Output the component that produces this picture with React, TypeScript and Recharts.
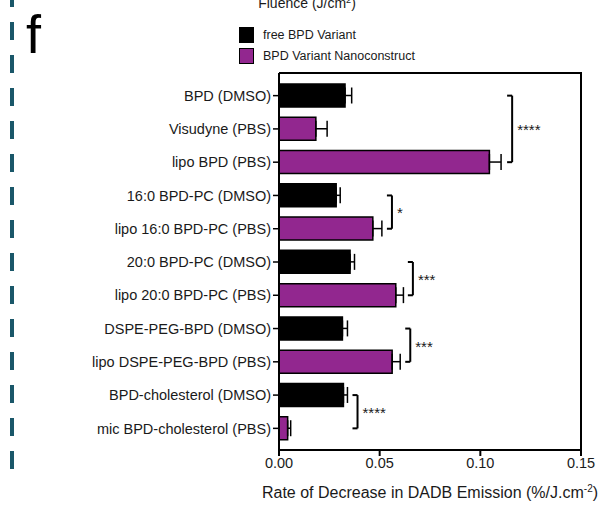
import React from "react";
import {
  BarChart,
  Bar,
  Cell,
  XAxis,
  YAxis,
  ErrorBar,
  ReferenceLine,
  Label,
} from "recharts";

const categories = [
  "BPD (DMSO)",
  "Visudyne (PBS)",
  "lipo BPD (PBS)",
  "16:0 BPD-PC (DMSO)",
  "lipo 16:0 BPD-PC (PBS)",
  "20:0 BPD-PC (DMSO)",
  "lipo 20:0 BPD-PC (PBS)",
  "DSPE-PEG-BPD (DMSO)",
  "lipo DSPE-PEG-BPD (PBS)",
  "BPD-cholesterol (DMSO)",
  "mic BPD-cholesterol (PBS)",
];
const rates = [0.0328, 0.0183, 0.1045, 0.0284, 0.0466, 0.0353, 0.058, 0.0315, 0.0562, 0.032, 0.0043];
const errors = [0.0033, 0.0056, 0.0058, 0.002, 0.0045, 0.0022, 0.0038, 0.0025, 0.004, 0.002, 0.0015];
const groups = ["free", "nano", "nano", "free", "nano", "free", "nano", "free", "nano", "free", "nano"];

const xTicks = [0, 0.05, 0.1, 0.15];

// significance brackets: first row, last row, bracket position on the x scale, stars
const bracketRows = [
  [0, 2],
  [3, 4],
  [5, 6],
  [7, 8],
  [9, 10],
];
const bracketX = [0.1158, 0.0561, 0.0665, 0.0652, 0.039];
const bracketStars = ["****", "*", "***", "***", "****"];

const legendItems = [
  { key: "free", label: "free BPD Variant" },
  { key: "nano", label: "BPD Variant Nanoconstruct" },
];

const colors: Record<string, string> = { free: "#000000", nano: "#92278f" };

const data = categories.map((name, i) => ({
  name,
  rate: rates[i],
  err: [0, errors[i]],
  group: groups[i],
}));

const INK = "#1a1a1a";
const W = 602;
const H = 508;
const margin = { top: 73, right: 21, left: 0, bottom: 0 };
const yAxisWidth = 279;
const xAxisHeight = 58;

function AxisTitle(props: any) {
  const { viewBox } = props;
  const cx = viewBox.x + viewBox.width / 2;
  const y = viewBox.y + viewBox.height - 10;
  return (
    <text x={cx} y={y} textAnchor="middle" fontSize={16} fill={INK}>
      Rate of Decrease in DADB Emission (%/J.cm
      <tspan dy={-6} fontSize={10}>-2</tspan>
      <tspan dy={6}>)</tspan>
    </text>
  );
}

export default function App() {
  const tick = 0.0025;
  // plot frame (top and right edges; bottom/left come from the axes)
  const plotLeft = margin.left + yAxisWidth;
  const plotRight = W - margin.right;
  const plotTop = margin.top;
  const plotBottom = H - margin.bottom - xAxisHeight;
  return (
    <div
      style={{
        position: "absolute",
        left: 0,
        top: 0,
        width: W,
        height: H,
        background: "#fff",
        fontFamily: "'Liberation Sans', Arial, sans-serif",
        overflow: "hidden",
      }}
    >
      <svg width={W} height={H} style={{ position: "absolute", left: 0, top: 0 }}>
        <line
          x1={12}
          y1={0}
          x2={12}
          y2={475}
          stroke="#1a5769"
          strokeWidth={4}
          strokeDasharray="18 15"
          strokeDashoffset={11}
        />
        <text x={26} y={53} fontSize={54} fill="#000">
          f
        </text>
        <text x={307} y={8} textAnchor="middle" fontSize={14} fill={INK}>
          Fluence (J/cm
          <tspan dy={-5} fontSize={9}>2</tspan>
          <tspan dy={5}>)</tspan>
        </text>
        {legendItems.map((item, i) => (
          <g key={item.key}>
            <rect
              x={239.5}
              y={27.5 + i * 21}
              width={14}
              height={15}
              fill={colors[item.key]}
              stroke="#000"
              strokeWidth={1}
            />
            <text x={263} y={39 + i * 21} fontSize={12.5} fill={INK}>
              {item.label}
            </text>
          </g>
        ))}
        <polyline
          points={`${plotLeft},${plotTop} ${plotRight},${plotTop} ${plotRight},${plotBottom}`}
          fill="none"
          stroke="#000"
          strokeWidth={2}
        />
      </svg>
      <div style={{ position: "absolute", left: 0, top: 0 }}>
        <BarChart
          width={W}
          height={H}
          data={data}
          layout="vertical"
          margin={margin}
          barCategoryGap={0}
        >
          <XAxis
            type="number"
            domain={[0, 0.15]}
            ticks={xTicks}
            tickFormatter={(v: number) => v.toFixed(2)}
            allowDataOverflow
            height={xAxisHeight}
            axisLine={{ stroke: "#000", strokeWidth: 2 }}
            tickLine={{ stroke: "#000", strokeWidth: 2 }}
            tickSize={6}
            tickMargin={2}
            tick={{ fontSize: 14.5, fill: INK }}
          >
            <Label content={<AxisTitle />} />
          </XAxis>
          <YAxis
            type="category"
            dataKey="name"
            width={yAxisWidth}
            padding={{ top: 6, bottom: 5 }}
            interval={0}
            axisLine={{ stroke: "#000", strokeWidth: 2 }}
            tickLine={{ stroke: "#000", strokeWidth: 1.5 }}
            tickSize={6}
            tickMargin={2}
            tick={{ fontSize: 14.5, fill: INK }}
          />
          <Bar dataKey="rate" barSize={23} stroke="#000" strokeWidth={1.5} isAnimationActive={false}>
            {data.map((d) => (
              <Cell key={d.name} fill={colors[d.group]} />
            ))}
            <ErrorBar dataKey="err" direction="x" width={8} stroke="#000" strokeWidth={1.5} />
          </Bar>
          {bracketRows.map(([a, b], i) => (
            <ReferenceLine
              key={"v" + i}
              segment={[
                { x: bracketX[i], y: categories[a] },
                { x: bracketX[i], y: categories[b] },
              ]}
              stroke="#000"
              strokeWidth={2}
              label={{
                value: bracketStars[i],
                position: "right",
                offset: 5,
                fontSize: 15,
                fill: INK,
                dy: 1,
              }}
            />
          ))}
          {bracketRows.flatMap(([a, b], i) =>
            [a, b].map((r) => (
              <ReferenceLine
                key={"h" + i + "-" + r}
                segment={[
                  { x: bracketX[i] - tick, y: categories[r] },
                  { x: bracketX[i], y: categories[r] },
                ]}
                stroke="#000"
                strokeWidth={2}
              />
            ))
          )}
        </BarChart>
      </div>
    </div>
  );
}
